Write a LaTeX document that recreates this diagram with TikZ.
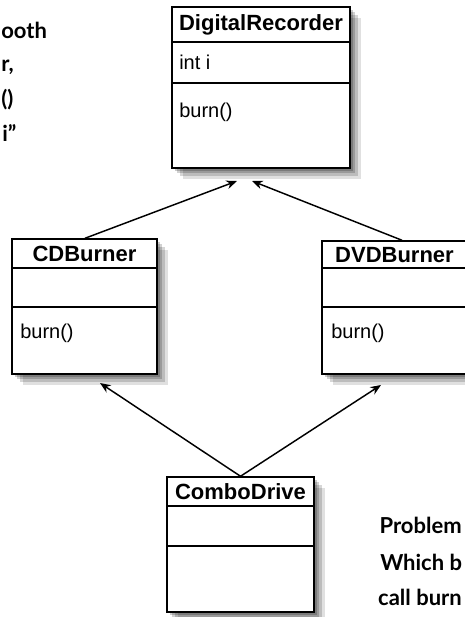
\documentclass[tikz,border=0pt]{standalone}
\usepackage{fontspec}
\setmainfont{Liberation Sans}
\newfontfamily\handfont{Lato}
\usetikzlibrary{arrows.meta,fit}

\begin{document}
\begin{tikzpicture}[
x=0.75pt,
y=-0.75pt,
cls/.style={rectangle,draw,line width=1.1pt,fill=white,inner sep=0pt,
  preaction={fill=black,opacity=.2,transform canvas={shift={(2pt,-2pt)}}},
  preaction={fill=black,opacity=.18,transform canvas={shift={(4pt,-4pt)}}},
  preaction={fill=black,opacity=.16,transform canvas={shift={(6pt,-6pt)}}},
  preaction={fill=black,opacity=.12,transform canvas={shift={(8pt,-8pt)}}}},
sep/.style={line width=1.1pt},
head/.style={font=\fontsize{16.5}{18}\selectfont\bfseries,inner sep=0pt},
member/.style={font=\fontsize{15}{16}\selectfont,anchor=west,inner sep=0pt},
hand/.style={font=\handfont\fontsize{16.5}{18}\selectfont\bfseries,inner sep=0pt},
arr/.style={-{Stealth[length=8pt,width=6.5pt]},line width=1.1pt}
]
\useasboundingbox (0,0) rectangle (464,617);

% handwritten notes
\node[hand,anchor=west] (notea) at (1,30) {ooth};
\node[hand,anchor=west] (noteb) at (1,67) {r,};
\node[hand,anchor=west] (notec) at (1,100) {()};
\node[hand,anchor=west] (noted) at (2,133) {i”};
\node[hand,anchor=east] (probl) at (462,525) {Problem};
\node[hand,anchor=west] (probw) at (380,562) {Which b};
\node[hand,anchor=east] (probc) at (462,597) {call burn};

% classes
\node[cls,fit={(172,7) (350,168)}] (dr) {};
\node[cls,fit={(12,239) (157,374)}] (cd) {};
\node[cls,fit={(322,241) (467,374)}] (dvd) {};
\node[cls,fit={(167,477) (314,612)}] (combo) {};

\draw[sep] (dr.west |- 0,42) -- (dr.east |- 0,42);
\draw[sep] (dr.west |- 0,83) -- (dr.east |- 0,83);
\draw[sep] (cd.west |- 0,268) -- (cd.east |- 0,268);
\draw[sep] (cd.west |- 0,307) -- (cd.east |- 0,307);
\draw[sep] (dvd.west |- 0,268) -- (dvd.east |- 0,268);
\draw[sep] (dvd.west |- 0,307) -- (dvd.east |- 0,307);
\draw[sep] (combo.west |- 0,506) -- (combo.east |- 0,506);
\draw[sep] (combo.west |- 0,546) -- (combo.east |- 0,546);

\node[head] (drname) at (261,25) {DigitalRecorder};
\node[member] (drattr) at (179,62) {int i};
\node[member] (drop) at (179,112) {burn()};
\node[head] (cdname) at (84.5,254) {CDBurner};
\node[member] (cdop) at (20,333) {burn()};
\node[head] (dvdname) at (394.5,255) {DVDBurner};
\node[member] (dvdop) at (331,333) {burn()};
\node[head] (comboname) at (240.5,492) {ComboDrive};

% inheritance arrows
\coordinate (drfootl) at (237,181);
\coordinate (drfootr) at (252,181);
\coordinate (cdfoot) at (100,383);
\coordinate (dvdfoot) at (381,385);
\draw[arr] (cd.north -| 85,0) -- (drfootl);
\draw[arr] (dvd.north -| 402,0) -- (drfootr);
\draw[arr] (combo.north) -- (cdfoot);
\draw[arr] (combo.north) -- (dvdfoot);
\end{tikzpicture}
\end{document}
